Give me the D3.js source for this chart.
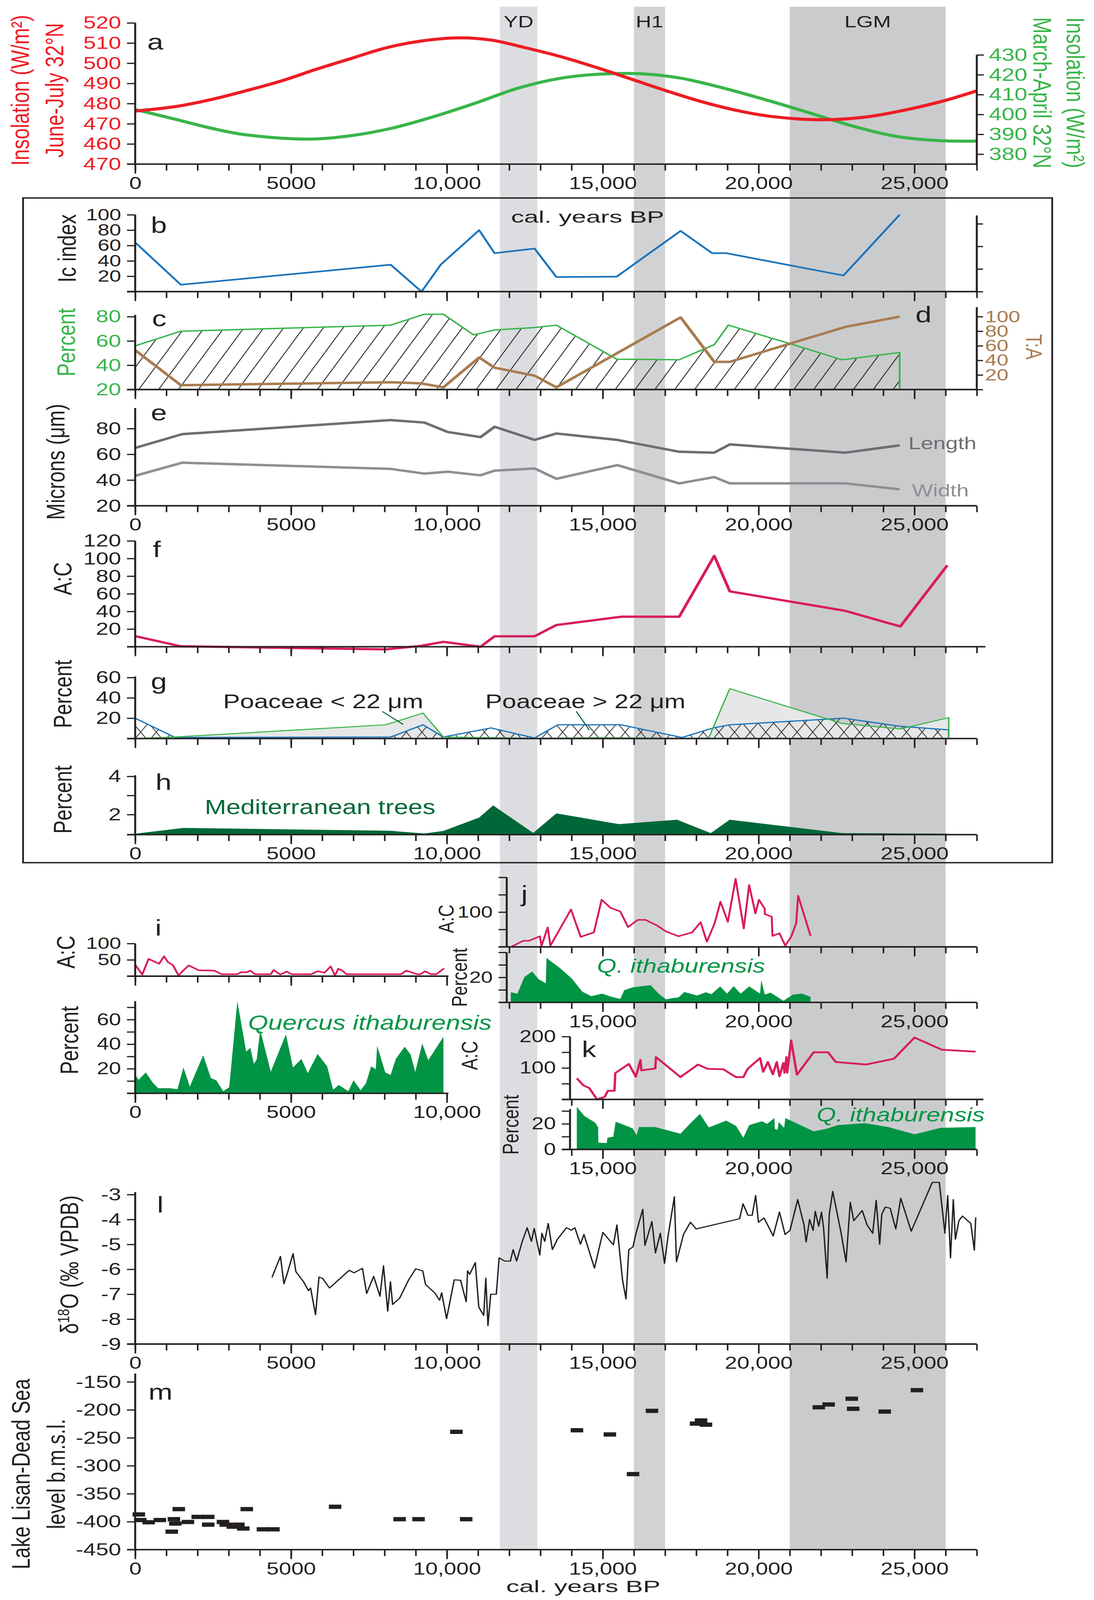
<!DOCTYPE html>
<html>
<head>
<meta charset="utf-8">
<title>Insolation, pollen and lake level records, 0-27,000 cal. years BP</title>
<script src="https://cdn.jsdelivr.net/npm/d3@7/dist/d3.min.js"></script>
<style>
  html, body { margin: 0; padding: 0; background: #fff; overflow: hidden; }
  svg { display: block; }
  svg text { font-family: "Liberation Sans", Arial, Helvetica, sans-serif; }
</style>
</head>
<body>
<script>
// ---------- data ----------

// climate events
var bandNames = ['YD', 'H1', 'LGM'];
var bandStart = [11700, 16000, 21000];
var bandEnd = [12900, 17000, 26000];

// shared x ticks
var xMajor = [0, 5000, 10000, 15000, 20000, 25000];
var xTickLabels = ['0', '5000', '10,000', '15,000', '20,000', '25,000'];
var jkMajor = [15000, 20000, 25000];
var jkTickLabels = ['15,000', '20,000', '25,000'];
var iMajor = [0, 5000, 10000];
var iTickLabels = ['0', '5000', '10,000'];

// a: insolation
var insolJJYears = [0, 1284, 2410, 3536, 4662, 5788, 6914, 8040, 9166, 10404, 11418, 12544, 13670, 14796, 15922, 17048, 18182, 19300, 20426, 22002, 23353, 24479, 25830, 27000];
var insolJJ = [476.3, 478.5, 481.9, 486.3, 491.1, 496.9, 502.3, 507.6, 511, 512.6, 511.5, 507.6, 503.2, 497.9, 492.1, 486.3, 480.9, 476.6, 473.6, 472.0, 473.2, 476.1, 480.9, 486.3];
var insolMAYears = [0, 1284, 2410, 3536, 5562, 6914, 8265, 9616, 10967, 12318, 13670, 15020, 16259, 17498, 18849, 20426, 21777, 23128, 24479, 25830, 27000];
var insolMA = [402.5, 397.6, 393.2, 389.8, 387.6, 389.3, 393.2, 399.1, 406, 413.4, 418.3, 420.4, 420.5, 418.3, 413.4, 406.5, 400.1, 393.7, 388.8, 386.8, 386.6];
var jjTicks = [450, 460, 470, 480, 490, 500, 510, 520];
var jjTickLabels = ['470', '460', '470', '480', '490', '500', '510', '520'];
var maTicks = [380, 390, 400, 410, 420, 430];
var maTickLabels = ['380', '390', '400', '410', '420', '430'];

// b: Ic index
var icYears = [0, 1464, 8197, 9188, 9800, 11035, 11530, 12814, 13512, 15449, 17498, 18511, 18962, 22723, 24525];
var icIndex = [64, 9, 35, 0, 35, 80, 50, 56, 19, 19.5, 79, 50, 50, 21, 100];

// c: percent (hatched) and d: T:A
var percYears = [0, 1464, 8197, 9278, 9886, 10855, 11530, 12814, 13512, 15449, 17453, 18579, 19029, 21101, 22678, 24525];
var percC = [56, 68, 73, 82, 82, 65, 69, 71, 73, 45, 44.5, 57, 73, 57, 44.5, 50.5];
var taYears = [0, 1464, 8197, 9166, 9886, 11035, 11530, 12814, 13512, 17498, 18579, 19074, 22790, 24525];
var taRatio = [54, 6, 10, 8.5, 3, 44, 30, 19, 3, 99, 38, 38, 86, 100];

// e: phytolith size
var micYears = [0, 1509, 8197, 9278, 10021, 11080, 11530, 12814, 13512, 15470, 17453, 18579, 19074, 22790, 24525];
var lengthMic = [65, 75.7, 86.6, 84.7, 77.4, 73.4, 81.4, 71.2, 76.2, 71.2, 62, 61.3, 67.7, 61.3, 67];
var widthMic = [43.3, 53.5, 48.7, 45, 46.5, 43.7, 47.3, 49, 41, 51.6, 37.4, 42.3, 37.4, 37.4, 32.8];

// f: A:C
var acYears = [0, 1464, 8040, 9166, 9886, 11080, 11530, 12814, 13512, 15584, 17453, 18579, 19074, 22790, 24547, 26056];
var acRatio = [12, 0.5, -3, 1, 5.5, 0, 11.8, 11.8, 24.6, 34, 34, 103, 62.8, 40.6, 23, 92.4];

// g: Poaceae
var poaSmallYears = [0, 1284, 8040, 9233, 9886, 11000, 12800, 15000, 17500, 18400, 19074, 22678, 24547, 26101];
var poaSmall = [0, 1.5, 13.5, 25, 1.5, 1, 0.2, 0.8, 0.2, 0.5, 49, 14.8, 9.4, 20.5];
var poaLargeYears = [0, 1284, 8197, 9233, 9886, 11418, 12814, 13557, 15584, 17543, 18579, 19074, 22723, 24547, 26101];
var poaLarge = [20, 1, 1.5, 13.5, 1.5, 10.4, 0.5, 13.5, 13.5, 1, 10.7, 13.5, 20, 12, 8.5];

// h: Mediterranean trees
var medYears = [0, 1554, 8197, 9278, 9886, 11035, 11485, 12769, 13512, 15516, 17385, 18466, 19074, 22678, 26056];
var medTrees = [1.0, 1.3, 1.15, 1.01, 1.14, 1.84, 2.48, 1.04, 2.06, 1.5, 1.73, 1.03, 1.73, 1.03, 1.0];

// i: A:C and Quercus ithaburensis (0-10,000)
var iacYears = [0, 226, 430, 768, 927, 1051, 1209, 1390, 1548, 1718, 2034, 2542, 2768, 3277, 3390, 3582, 3695, 3842, 4350, 4441, 4656, 4859, 5028, 5650, 5853, 6080, 6271, 6407, 6520, 6644, 6780, 8531, 8701, 9040, 9153, 9300, 9492, 9662, 9910];
var iac = [35, 5, 53, 38, 61, 43, 34, 2, 18, 33, 18, 17, 6, 6, 12, 12, 17, 6, 6, 19, 5, 14, 6, 6, 15, 11, 30, 2, 23, 17, 6, 6, 17, 6, 6, 15, 6, 6, 24];
var iqYears = [0, 113, 339, 565, 735, 1108, 1356, 1548, 1752, 2181, 2430, 2600, 2825, 3017, 3277, 3560, 3695, 3808, 3898, 4011, 4350, 4836, 5062, 5334, 5537, 5853, 6158, 6350, 6531, 6837, 7006, 7232, 7401, 7571, 7718, 7763, 8023, 8193, 8362, 8645, 8837, 8984, 9210, 9402, 9888];
var iq = [15, 11, 17, 8.7, 4.2, 4.2, 3.3, 21, 5.5, 31, 12.4, 10.6, 1.7, 5, 75, 34, 37, 24, 27.5, 51.5, 17.6, 48, 21, 28, 16.4, 32, 22, 3, 6.8, 1.7, 10.6, 2.5, 8, 22, 19.6, 38.7, 17, 15, 28, 38, 31.5, 17.4, 40.5, 27, 46];

// j: A:C and Q. ithaburensis
var jacYears = [12075, 12449, 12636, 12985, 13035, 13234, 13321, 13981, 14292, 14716, 14965, 15252, 15563, 15812, 16123, 16372, 16746, 17033, 17432, 17867, 18141, 18341, 18590, 18777, 19014, 19263, 19524, 19698, 19898, 20010, 20197, 20200, 20421, 20445, 20670, 20857, 21044, 21206, 21268, 21667];
var jac = [0.7, 17.6, 17.6, 30.5, 2.4, 55.8, 3.5, 107.5, 28.8, 41.7, 135.6, 112, 102, 57, 77.7, 77.7, 61.4, 44, 30.5, 41.7, 71, 14.7, 68, 130, 72, 195.8, 53, 177.8, 96, 135.6, 110, 94, 86.7, 31.6, 39, 3.5, 28.8, 68, 147, 31.6];
var jqYears = [12050, 12262, 12486, 12735, 12947, 13097, 13172, 13196, 13632, 14006, 14342, 14629, 14978, 15289, 15563, 15688, 15962, 16535, 16809, 17033, 17245, 17432, 17618, 18029, 18304, 18490, 18765, 18989, 19200, 19425, 19698, 20047, 20085, 20197, 20384, 20795, 21106, 21392, 21667];
var jq = [8.1, 7.0, 20.3, 24.7, 18.5, 16.4, 15.2, 35.5, 27.4, 19.1, 8.6, 5.0, 7.0, 4.4, 2.8, 9.7, 12.1, 13.8, 6.6, 2.4, 3.5, 4.0, 8.3, 5.5, 8.1, 6.6, 12.8, 7.0, 13, 7.0, 12.8, 7.0, 18, 6.3, 7.8, 1.3, 6.3, 7.0, 4.4];

// k: A:C and Q. ithaburensis
var kacYears = [14168, 14380, 14567, 14816, 15065, 15165, 15377, 15401, 15837, 16061, 16211, 16240, 16684, 16709, 17494, 18054, 18365, 18864, 19275, 19512, 19649, 20047, 20147, 20297, 20458, 20583, 20670, 20795, 20832, 20894, 20919, 21044, 21231, 21766, 22227, 22476, 23448, 24344, 25004, 25876, 26960];
var kac = [67.4, 44.4, 36.3, 0, 8.3, 27.5, 27.5, 83.5, 112.8, 72.4, 125.3, 92.3, 98.5, 134.6, 71.1, 110.9, 97.3, 96, 71.1, 71.1, 97.3, 131.5, 87.9, 119, 79.8, 119, 73.6, 115.9, 84.8, 134.6, 84.8, 187.5, 78.6, 150, 150, 119, 111, 129.6, 196.8, 158.2, 152];
var kqYears = [14168, 14417, 14753, 14853, 14860, 15127, 15152, 15339, 15414, 15962, 16086, 16161, 16684, 17494, 17805, 18117, 18403, 18964, 19275, 19512, 19698, 20110, 20272, 20508, 20521, 20608, 20645, 20820, 20857, 21293, 21766, 22165, 22539, 23410, 24157, 25004, 25839, 26960];
var kq = [33.2, 26, 21, 17.2, 5.3, 5, 9.2, 9.9, 21.7, 16.4, 11.1, 17.5, 17.5, 12.3, 20.2, 27.8, 17.2, 22.5, 18.4, 9.2, 19, 22, 19.9, 24.5, 16, 15.3, 21.4, 16.9, 24.5, 19.5, 14.1, 16, 19, 20.5, 17.5, 11.8, 16.9, 17.5];

// l: speleothem d18O
var d18Years = [4390, 4660, 4772, 4885, 5065, 5155, 5402, 5560, 5627, 5785, 5897, 6010, 6235, 6864, 7021, 7291, 7426, 7651, 7853, 7966, 8101, 8190, 8258, 8483, 8775, 9000, 9225, 9315, 9607, 9765, 9832, 9990, 10237, 10439, 10619, 10664, 10731, 10911, 11024, 11181, 11249, 11317, 11406, 11586, 11676, 11856, 12036, 12126, 12238, 12418, 12576, 12711, 12801, 12980, 13048, 13138, 13250, 13385, 13542, 13835, 13992, 14105, 14285, 14397, 14734, 15004, 15342, 15454, 15634, 15746, 15836, 15971, 16061, 16285, 16353, 16578, 16690, 16848, 16983, 17096, 17298, 17365, 17590, 17815, 17995, 19389, 19501, 19659, 19794, 19906, 19996, 20176, 20468, 20670, 20850, 21007, 21255, 21457, 21524, 21637, 21749, 21817, 21929, 22019, 22087, 22199, 22266, 22379, 22648, 22806, 22941, 23053, 23323, 23481, 23660, 23773, 23885, 23953, 24065, 24222, 24402, 24560, 24897, 25572, 25797, 25977, 26067, 26157, 26246, 26314, 26426, 26539, 26809, 26921, 26966];
var d18O = [-6.32, -5.48, -6.58, -6.14, -5.37, -6.09, -6.5, -6.86, -6.75, -7.82, -6.31, -6.36, -6.75, -6.04, -6.14, -5.96, -6.97, -6.28, -7.08, -5.86, -7.68, -6.5, -7.41, -7.16, -6.42, -5.98, -6.06, -6.61, -6.94, -7.24, -6.94, -7.98, -6.42, -6.44, -7.3, -6.06, -6.2, -5.73, -7.52, -7.85, -6.36, -8.26, -7.0, -7.0, -5.54, -5.67, -5.67, -5.21, -5.67, -4.88, -4.33, -4.88, -4.36, -5.43, -4.55, -4.88, -4.16, -5.21, -4.8, -4.33, -4.43, -4.33, -4.99, -4.6, -5.95, -4.52, -5.02, -4.22, -6.42, -7.19, -5.21, -5.1, -4.58, -3.59, -5.04, -4.08, -5.34, -4.55, -5.76, -4.66, -3.09, -5.7, -4.6, -4.11, -4.38, -3.97, -3.37, -3.83, -3.83, -3.04, -4.11, -3.94, -4.66, -3.7, -4.6, -4.44, -3.2, -4.22, -4.9, -4.0, -4.44, -3.67, -4.27, -3.7, -4.38, -6.36, -3.81, -2.87, -4.55, -5.7, -3.31, -4.05, -3.64, -4.22, -4.55, -3.23, -4.99, -3.78, -3.5, -3.55, -4.38, -3.15, -4.47, -2.51, -2.51, -4.55, -3.04, -5.54, -3.2, -4.79, -4.05, -3.86, -4.16, -5.23, -3.92];
var d18Ticks = [-9, -8, -7, -6, -5, -4, -3];

// m: Lake Lisan - Dead Sea level
var lakeYears = [117, 162, 432, 792, 1242, 1174, 1287, 1399, 1692, 2007, 2343, 2343, 2816, 2906, 3131, 3311, 3468, 3580, 4098, 4435, 6414, 8483, 9090, 10305, 10619, 14173, 15230, 15972, 16579, 17995, 18154, 18311, 21932, 22247, 22989, 23034, 24046, 25080];
var lakeLevel = [-387, -397, -401, -397, -395.5, -417.8, -403.3, -377.5, -400.5, -391.4, -391.4, -405.3, -400.5, -405.3, -408.9, -405.3, -412.2, -377.5, -413.6, -413.6, -373.3, -395.5, -395.5, -239.3, -395.5, -236.5, -244, -314.9, -201.8, -224.6, -219, -226.5, -195.4, -190.4, -180.1, -198.1, -203.1, -164.8];
var lakeTicks = [-450, -400, -350, -300, -250, -200, -150];

// ---------- styles ----------
var INK = '#231f20';
var RED = '#ed1c24', GREEN = '#39b54a', BLUE = '#1c75bc', BROWN = '#a97c50';
var GRAY_L = '#6d6e71', GRAY_W = '#8e8f92', PINK = '#d91c5c';
var DKGREEN = '#006838', QGREEN = '#009444', LIGHTFILL = '#e6e7e8';
var bandFill = ['#dcdde0', '#d1d2d4', '#cacbcd'];

// drawing is laid out on a 2800 x 5245 board, fitted to the window
var vw = window.innerWidth || 2800, vh = window.innerHeight || 5245;
var svg = d3.select('body').append('svg')
  .attr('width', vw).attr('height', vh)
  .attr('viewBox', '0 0 2800 5245').attr('preserveAspectRatio', 'none');
svg.append('rect').attr('width', 2800).attr('height', 5245).attr('fill', '#fff');

var x = d3.scaleLinear().domain([0, 27000]).range([346, 2500]);
var yearTicks = d3.range(0, 27001, 1000);

// ---------- helpers ----------
function lineOf(xs, ys, sy, curve) {
  return d3.line().x(function (d) { return x(d); })
    .y(function (d, i) { return sy(ys[i]); })
    .curve(curve || d3.curveLinear)(xs);
}
function areaOf(xs, ys, sy, base) {
  return d3.area().x(function (d) { return x(d); })
    .y0(sy(base)).y1(function (d, i) { return sy(ys[i]); })(xs);
}
function path(d, stroke, width, fill) {
  return svg.append('path').attr('d', d).attr('fill', fill || 'none')
    .attr('stroke', stroke || 'none').attr('stroke-width', width || 0)
    .attr('stroke-linejoin', 'round');
}
function styleAxis(g, fs, color) {
  g.attr('font-size', fs).attr('font-family', null);
  g.select('.domain').remove();
  g.selectAll('.tick line').attr('stroke', INK).attr('stroke-width', 4);
  g.selectAll('.tick text').attr('fill', color || INK)
    .filter(function () { return this.textContent === ''; }).remove();
}
function yAxis(sc, xPos, vals, labels, o) {
  var ax = (o.side === 'right' ? d3.axisRight(sc) : d3.axisLeft(sc))
    .tickValues(vals).tickSizeOuter(0)
    .tickSize(o.size || 21).tickPadding(o.pad || 15)
    .tickFormat(function (d, i) { return labels ? labels[i] : ''; });
  var g = svg.append('g').attr('transform', 'translate(' + xPos + ',0)').call(ax);
  styleAxis(g, o.fs || 58, o.color);
  svg.append('line').attr('x1', xPos).attr('x2', xPos)
    .attr('y1', sc(o.top)).attr('y2', sc(o.bottom) + 2)
    .attr('stroke', INK).attr('stroke-width', 5);
}
function xAxis(yPos, vals, o) {
  var minor = svg.append('g').attr('transform', 'translate(0,' + yPos + ')')
    .call(d3.axisBottom(x).tickValues(vals).tickSizeOuter(0).tickSize(21).tickFormat(''));
  styleAxis(minor, 57);
  var major = svg.append('g').attr('transform', 'translate(0,' + yPos + ')')
    .call(d3.axisBottom(x).tickValues(o.major).tickSizeOuter(0).tickSize(31).tickPadding(10)
      .tickFormat(function (d, i) { return o.labels ? o.labels[i] : ''; }));
  styleAxis(major, o.fs || 57);
  svg.append('line').attr('x1', o.x0).attr('x2', o.x1).attr('y1', yPos).attr('y2', yPos)
    .attr('stroke', INK).attr('stroke-width', 5);
}
function label(txt, xp, yp, o) {
  o = o || {};
  var t = svg.append('text').attr('x', xp).attr('y', yp).text(txt)
    .attr('font-size', o.fs || 65).attr('fill', o.color || INK)
    .attr('text-anchor', o.anchor || 'start');
  if (o.rotate) t.attr('transform', 'rotate(' + o.rotate + ',' + xp + ',' + yp + ')');
  if (o.italic) t.attr('font-style', 'italic');
  if (o.len) t.attr('textLength', o.len).attr('lengthAdjust', 'spacingAndGlyphs');
  return t;
}
function vtitle(txt, xp, yp, color, fs, rot) {
  return label(txt, xp, yp, { fs: fs || 65, color: color, anchor: 'middle', rotate: rot || -90 });
}

// ---------- patterns ----------
var defs = svg.append('defs');
defs.append('pattern').attr('id', 'diag').attr('patternUnits', 'userSpaceOnUse')
  .attr('width', 44).attr('height', 44).attr('patternTransform', 'rotate(30)')
  .append('line').attr('x1', 22).attr('y1', -2).attr('x2', 22).attr('y2', 46)
  .attr('stroke', INK).attr('stroke-width', 2.4);
defs.append('pattern').attr('id', 'cross').attr('patternUnits', 'userSpaceOnUse')
  .attr('width', 40).attr('height', 60)
  .append('path').attr('d', 'M0,0L40,60M40,0L0,60')
  .attr('stroke', INK).attr('stroke-width', 2).attr('fill', 'none');

// ---------- event bands ----------
svg.append('g').selectAll('rect').data(bandNames).join('rect')
  .attr('x', function (d, i) { return x(bandStart[i]); })
  .attr('width', function (d, i) { return x(bandEnd[i]) - x(bandStart[i]); })
  .attr('y', 22).attr('height', 5080 - 22)
  .attr('fill', function (d, i) { return bandFill[i]; });
svg.append('g').selectAll('text').data(bandNames).join('text')
  .attr('x', function (d, i) { return x((bandStart[i] + bandEnd[i]) / 2); })
  .attr('y', 90).attr('text-anchor', 'middle').attr('font-size', 55).attr('fill', INK)
  .text(function (d) { return d; });

// box around b-h
svg.append('rect').attr('x', 59).attr('y', 649).attr('width', 2634).attr('height', 2179)
  .attr('fill', 'none').attr('stroke', INK).attr('stroke-width', 4.5);

// ---------- a ----------
var yJJ = d3.scaleLinear().domain([450, 520]).range([538, 75]);
var yMA = d3.scaleLinear().domain([375, 430]).range([538, 180]);
path(lineOf(insolMAYears, insolMA, yMA, d3.curveCatmullRom), GREEN, 10);
path(lineOf(insolJJYears, insolJJ, yJJ, d3.curveCatmullRom), RED, 10);
yAxis(yJJ, x(0), jjTicks, jjTickLabels, { color: RED, top: 520, bottom: 450 });
yAxis(yMA, x(27000), maTicks, maTickLabels, { side: 'right', color: GREEN, fs: 59, size: 18, pad: 13, top: 430, bottom: 375 });
xAxis(538, yearTicks, { major: xMajor, labels: xTickLabels, x0: x(0) - 21, x1: x(27000) });
label('a', 377, 163, { fs: 74 });
vtitle('Insolation (W/m²)', 74, 296, RED);
vtitle('June-July 32°N', 162, 296, RED);
vtitle('Insolation (W/m²)', 2730, 304, GREEN, 65, 90);
vtitle('March-April 32°N', 2645, 304, GREEN, 65, 90);

// ---------- b ----------
label('cal. years BP', 1504, 730, { fs: 54, anchor: 'middle', len: 392 });
var yIc = d3.scaleLinear().domain([0, 100]).range([956, 704]);
path(lineOf(icYears, icIndex, yIc), BLUE, 5.5);
yAxis(yIc, x(0), [0, 20, 40, 60, 80, 100], ['', '20', '40', '60', '80', '100'], { fs: 54, top: 100, bottom: 0 });
var yIcRight = d3.scaleLinear().domain([0, 3.4]).range([956, 704]);
yAxis(yIcRight, x(27000), [0, 1, 2, 3], null, { side: 'right', size: 16, top: 3.37, bottom: 0 });
xAxis(956, yearTicks, { major: xMajor, x0: x(0) - 21, x1: x(27000) });
label('b', 386, 763, { fs: 74 });
vtitle('Ic index', 194, 814, INK);

// ---------- c / d ----------
var yPct = d3.scaleLinear().domain([20, 80]).range([1277, 1038]);
var yTA = d3.scaleLinear().domain([0, 100]).range([1277, 1038]);
path(areaOf(percYears, percC, yPct, 20), GREEN, 4.5, 'url(#diag)');
path(lineOf(taYears, taRatio, yTA), BROWN, 8);
yAxis(yPct, x(0), [20, 40, 60, 80], ['20', '40', '60', '80'], { color: GREEN, top: 81.5, bottom: 20 });
yAxis(yTA, x(27000), [0, 20, 40, 60, 80, 100], ['', '20', '40', '60', '80', '100'],
  { side: 'right', color: BROWN, fs: 54, size: 16, pad: 5, top: 113, bottom: 0 });
xAxis(1277, yearTicks, { major: xMajor, x0: x(0) - 21, x1: x(27000) });
label('c', 389, 1069, { fs: 74 });
label('d', 2343, 1057, { fs: 74 });
vtitle('Percent', 192, 1122, GREEN);
vtitle('T:A', 2626, 1137, BROWN, 58, 90);

// ---------- e ----------
var yMic = d3.scaleLinear().domain([20, 80]).range([1658, 1405]);
path(lineOf(micYears, lengthMic, yMic), GRAY_L, 8);
path(lineOf(micYears, widthMic, yMic), GRAY_W, 8);
yAxis(yMic, x(0), [20, 40, 60, 80], ['20', '40', '60', '80'], { top: 96, bottom: 20 });
xAxis(1658, yearTicks, { major: xMajor, labels: xTickLabels, x0: x(0) - 21, x1: x(27000) });
label('e', 386, 1378, { fs: 74 });
label('Length', 2325, 1473, { fs: 57, color: GRAY_L });
label('Width', 2334, 1627, { fs: 57, color: GRAY_W });
vtitle('Microns (μm)', 165, 1514, INK);

// ---------- f ----------
var yAC = d3.scaleLinear().domain([0, 120]).range([2120, 1773]);
path(lineOf(acYears, acRatio, yAC), PINK, 7.5);
yAxis(yAC, x(0), [0, 20, 40, 60, 80, 100, 120], ['', '20', '40', '60', '80', '100', '120'], { top: 120, bottom: 0 });
xAxis(2120, yearTicks, { major: xMajor, x0: x(0) - 21, x1: x(27000) + 22 });
label('f', 391, 1826, { fs: 74 });
vtitle('A:C', 183, 1897, INK);

// ---------- g ----------
var yG = d3.scaleLinear().domain([0, 60]).range([2421, 2221]);
path(areaOf(poaSmallYears, poaSmall, yG, 0), 'none', 0, LIGHTFILL);
path(areaOf(poaLargeYears, poaLarge, yG, 0), BLUE, 4, 'url(#cross)');
path(areaOf(poaSmallYears, poaSmall, yG, 0), GREEN, 3.5);
yAxis(yG, x(0), [0, 20, 40, 60], ['', '20', '40', '60'], { top: 61, bottom: 0 });
xAxis(2421, yearTicks, { major: xMajor, x0: x(0) - 21, x1: x(27000) });
label('g', 386, 2259, { fs: 74 });
label('Poaceae < 22 μm', 571, 2321, { fs: 65 });
label('Poaceae > 22 μm', 1242, 2321, { fs: 65 });
svg.append('line').attr('x1', x(7922)).attr('y1', yG(26.7)).attr('x2', x(8599)).attr('y2', yG(13.8))
  .attr('stroke', DKGREEN).attr('stroke-width', 3);
svg.append('line').attr('x1', x(14151)).attr('y1', yG(26.7)).attr('x2', x(14565)).attr('y2', yG(8.4))
  .attr('stroke', DKGREEN).attr('stroke-width', 3);
vtitle('Percent', 183, 2275, INK);

// ---------- h ----------
var yH = d3.scaleLinear().domain([0.95, 4]).range([2736, 2545]);
path(areaOf(medYears, medTrees, yH, 0.95), 'none', 0, DKGREEN);
yAxis(yH, x(0), [0.95, 2, 3, 4], ['', '2', '', '4'], { top: 4.06, bottom: 0.95 });
xAxis(2736, yearTicks, { major: xMajor, labels: xTickLabels, x0: x(0) - 21, x1: x(27000) });
label('h', 398, 2589, { fs: 74 });
label('Mediterranean trees', 524, 2669, { fs: 66, color: DKGREEN });
vtitle('Percent', 183, 2621, INK);

// ---------- i ----------
var iTicks = d3.range(0, 10001, 1000);
var yIac = d3.scaleLinear().domain([0, 100]).range([3200, 3093]);
var yIq = d3.scaleLinear().domain([0, 75]).range([3584, 3282]);
path(lineOf(iacYears, iac, yIac), PINK, 5);
path(areaOf(iqYears, iq, yIq, 0), 'none', 0, QGREEN);
yAxis(yIac, x(0), [0, 50, 100], ['', '50', '100'], { fs: 54, top: 100, bottom: 0 });
yAxis(yIq, x(0), [0, 10, 20, 30, 40, 50, 60, 70], ['', '', '20', '', '40', '', '60', ''], { fs: 56, top: 75, bottom: 0 });
xAxis(3200, iTicks, { major: iMajor, x0: x(0) - 21, x1: x(10000) + 4 });
xAxis(3584, iTicks, { major: iMajor, labels: iTickLabels, x0: x(0) - 21, x1: x(10000) + 4 });
label('i', 397, 3067, { fs: 74 });
vtitle('A:C', 191, 3121, INK);
vtitle('Percent', 200, 3410, INK);
label('Quercus ithaburensis', 635, 3375, { fs: 66, color: QGREEN, italic: true });

// ---------- j ----------
var jAxisX = x(11920);
var jTicks = d3.range(12000, 27001, 1000);
var yJac = d3.scaleLinear().domain([0, 200]).range([3104, 2876]);
var yJq = d3.scaleLinear().domain([0, 40]).range([3286, 3122]);
path(lineOf(jacYears, jac, yJac), PINK, 5);
path(areaOf(jqYears, jq, yJq, 0), 'none', 0, QGREEN);
yAxis(yJac, jAxisX, [0, 50, 100, 150, 200], ['', '', '100', '', ''], { fs: 54, top: 200, bottom: 0 });
yAxis(yJq, jAxisX, [0, 10, 20, 30, 40], ['', '', '20', '', ''], { fs: 54, top: 40, bottom: 0 });
xAxis(3104, jTicks, { major: jkMajor, x0: jAxisX - 21, x1: x(27000) });
xAxis(3286, jTicks, { major: jkMajor, labels: jkTickLabels, x0: jAxisX - 21, x1: x(27000) });
label('j', 1334, 2955, { fs: 74 });
vtitle('A:C', 1161, 3012, INK, 56);
vtitle('Percent', 1195, 3204, INK, 56);
label('Q. ithaburensis', 1528, 3188, { fs: 64, color: QGREEN, italic: true });

// ---------- k ----------
var kAxisX = x(13950);
var kTicks = d3.range(14000, 27001, 1000);
var yKac = d3.scaleLinear().domain([0, 200]).range([3604, 3398]);
var yKq = d3.scaleLinear().domain([0, 30]).range([3768, 3642]);
path(lineOf(kacYears, kac, yKac), PINK, 6);
path(areaOf(kqYears, kq, yKq, 0), 'none', 0, QGREEN);
yAxis(yKac, kAxisX, [0, 50, 100, 150, 200], ['', '', '100', '', '200'], { fs: 56, top: 200, bottom: 0 });
yAxis(yKq, kAxisX, [0, 10, 20, 30], ['0', '', '20', ''], { fs: 56, top: 31.5, bottom: 0 });
xAxis(3604, kTicks, { major: jkMajor, x0: kAxisX - 21, x1: x(27000) + 17 });
xAxis(3768, kTicks, { major: jkMajor, labels: jkTickLabels, x0: kAxisX - 21, x1: x(27000) });
label('k', 1489, 3465, { fs: 74 });
vtitle('A:C', 1222, 3460, INK, 57);
vtitle('Percent', 1327, 3687, INK, 57);
label('Q. ithaburensis', 2090, 3677, { fs: 64, color: QGREEN, italic: true });

// ---------- l ----------
var yL = d3.scaleLinear().domain([-9, -3]).range([4406, 3916]);
path(lineOf(d18Years, d18O, yL), INK, 3.5);
yAxis(yL, x(0), d18Ticks, d18Ticks.map(String), { top: -2.9, bottom: -9 });
xAxis(4406, yearTicks, { major: xMajor, labels: xTickLabels, x0: x(0) - 21, x1: x(27000) });
label('l', 402, 3975, { fs: 74 });
var lt = svg.append('text').attr('x', 200).attr('y', 4146).attr('font-size', 65).attr('fill', INK)
  .attr('text-anchor', 'middle').attr('transform', 'rotate(-90,200,4146)');
lt.append('tspan').text('δ');
lt.append('tspan').attr('baseline-shift', 'super').attr('font-size', 42).text('18');
lt.append('tspan').text('O (‰ VPDB)');

// ---------- m ----------
var yM = d3.scaleLinear().domain([-450, -150]).range([5080, 4530]);
svg.append('g').selectAll('rect').data(lakeYears).join('rect')
  .attr('x', function (d) { return x(d) - 16; })
  .attr('y', function (d, i) { return yM(lakeLevel[i]) - 7; })
  .attr('width', 32).attr('height', 14).attr('fill', INK);
yAxis(yM, x(0), lakeTicks, lakeTicks.map(String), { top: -135, bottom: -450 });
xAxis(5080, yearTicks, { major: xMajor, labels: xTickLabels, x0: x(0) - 21, x1: x(27000) });
label('m', 380, 4588, { fs: 74 });
vtitle('Lake Lisan-Dead Sea', 76, 4832, INK);
vtitle('level b.m.s.l.', 166, 4832, INK);
label('cal. years BP', 1493, 5220, { fs: 54, anchor: 'middle', len: 395 });
</script>
</body>
</html>
